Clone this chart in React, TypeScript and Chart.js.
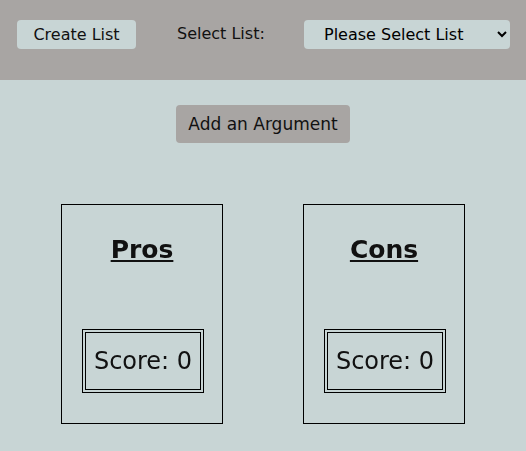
import { useEffect, useRef } from 'react';
import { Chart, registerables } from 'chart.js';

Chart.register(...registerables);

const sides = ['Pros', 'Cons'];
const scores = [0, 0];
const listOptions = ['Please Select List'];

const font = '"Comic Sans MS", "DejaVu Sans", sans-serif';

function SideBox({ title, score, left }: { title: string; score: number; left: number }) {
  return (
    <div
      style={{
        position: 'absolute', left, top: 204, width: 160, height: 218,
        border: '1px solid #000', boxSizing: 'content-box',
      }}
    >
      <div style={{ position: 'absolute', top: 30, width: '100%', textAlign: 'center', fontSize: 25, fontWeight: 'bold', textDecoration: 'underline' }}>
        {title}
      </div>
      <div
        style={{
          position: 'absolute', left: 20, top: 124, width: 114, height: 56,
          border: '4px double #000', display: 'flex', alignItems: 'center', justifyContent: 'center', fontSize: 24,
        }}
      >
        Score: {score}
      </div>
    </div>
  );
}

export default function App() {
  const chartRef = useRef<HTMLCanvasElement>(null);

  useEffect(() => {
    document.body.style.margin = '0';
    if (!chartRef.current) return;
    // invisible score chart behind the boxes (scores are all zero)
    const chart = new Chart(chartRef.current, {
      type: 'bar',
      data: { labels: sides, datasets: [{ data: scores, backgroundColor: 'rgba(0,0,0,0)' }] },
      options: {
        animation: false,
        responsive: false,
        plugins: { legend: { display: false }, tooltip: { enabled: false } },
        scales: { x: { display: false }, y: { display: false } },
      },
    });
    return () => chart.destroy();
  }, []);

  return (
    <div style={{ position: 'fixed', inset: 0, background: '#c8d5d5', fontFamily: font, color: '#111' }}>
      <canvas ref={chartRef} width={526} height={451} style={{ position: 'absolute', left: 0, top: 0 }} />
      <div style={{ position: 'absolute', left: 0, top: 0, width: '100%', height: 80, background: '#a8a5a3' }}>
        <div style={{ position: 'absolute', left: 17, top: 20, width: 119, height: 29, background: '#c8d5d5', borderRadius: 4, display: 'flex', alignItems: 'center', justifyContent: 'center', fontSize: 16 }}>
          Create List
        </div>
        <div style={{ position: 'absolute', left: 177, top: 24, fontSize: 16 }}>Select List:</div>
        <select style={{ position: 'absolute', left: 304, top: 20, width: 206, height: 29, background: '#c8d5d5', border: 'none', borderRadius: 4, fontFamily: font, fontSize: 16, paddingLeft: 16 }}>
          {listOptions.map(o => <option key={o}>{o}</option>)}
        </select>
      </div>
      <div style={{ position: 'absolute', left: 176, top: 105, width: 174, height: 38, background: '#a8a5a3', borderRadius: 4, display: 'flex', alignItems: 'center', justifyContent: 'center', fontSize: 17 }}>
        Add an Argument
      </div>
      {sides.map((s, i) => <SideBox key={s} title={s} score={scores[i]} left={61 + i * 242} />)}
    </div>
  );
}
